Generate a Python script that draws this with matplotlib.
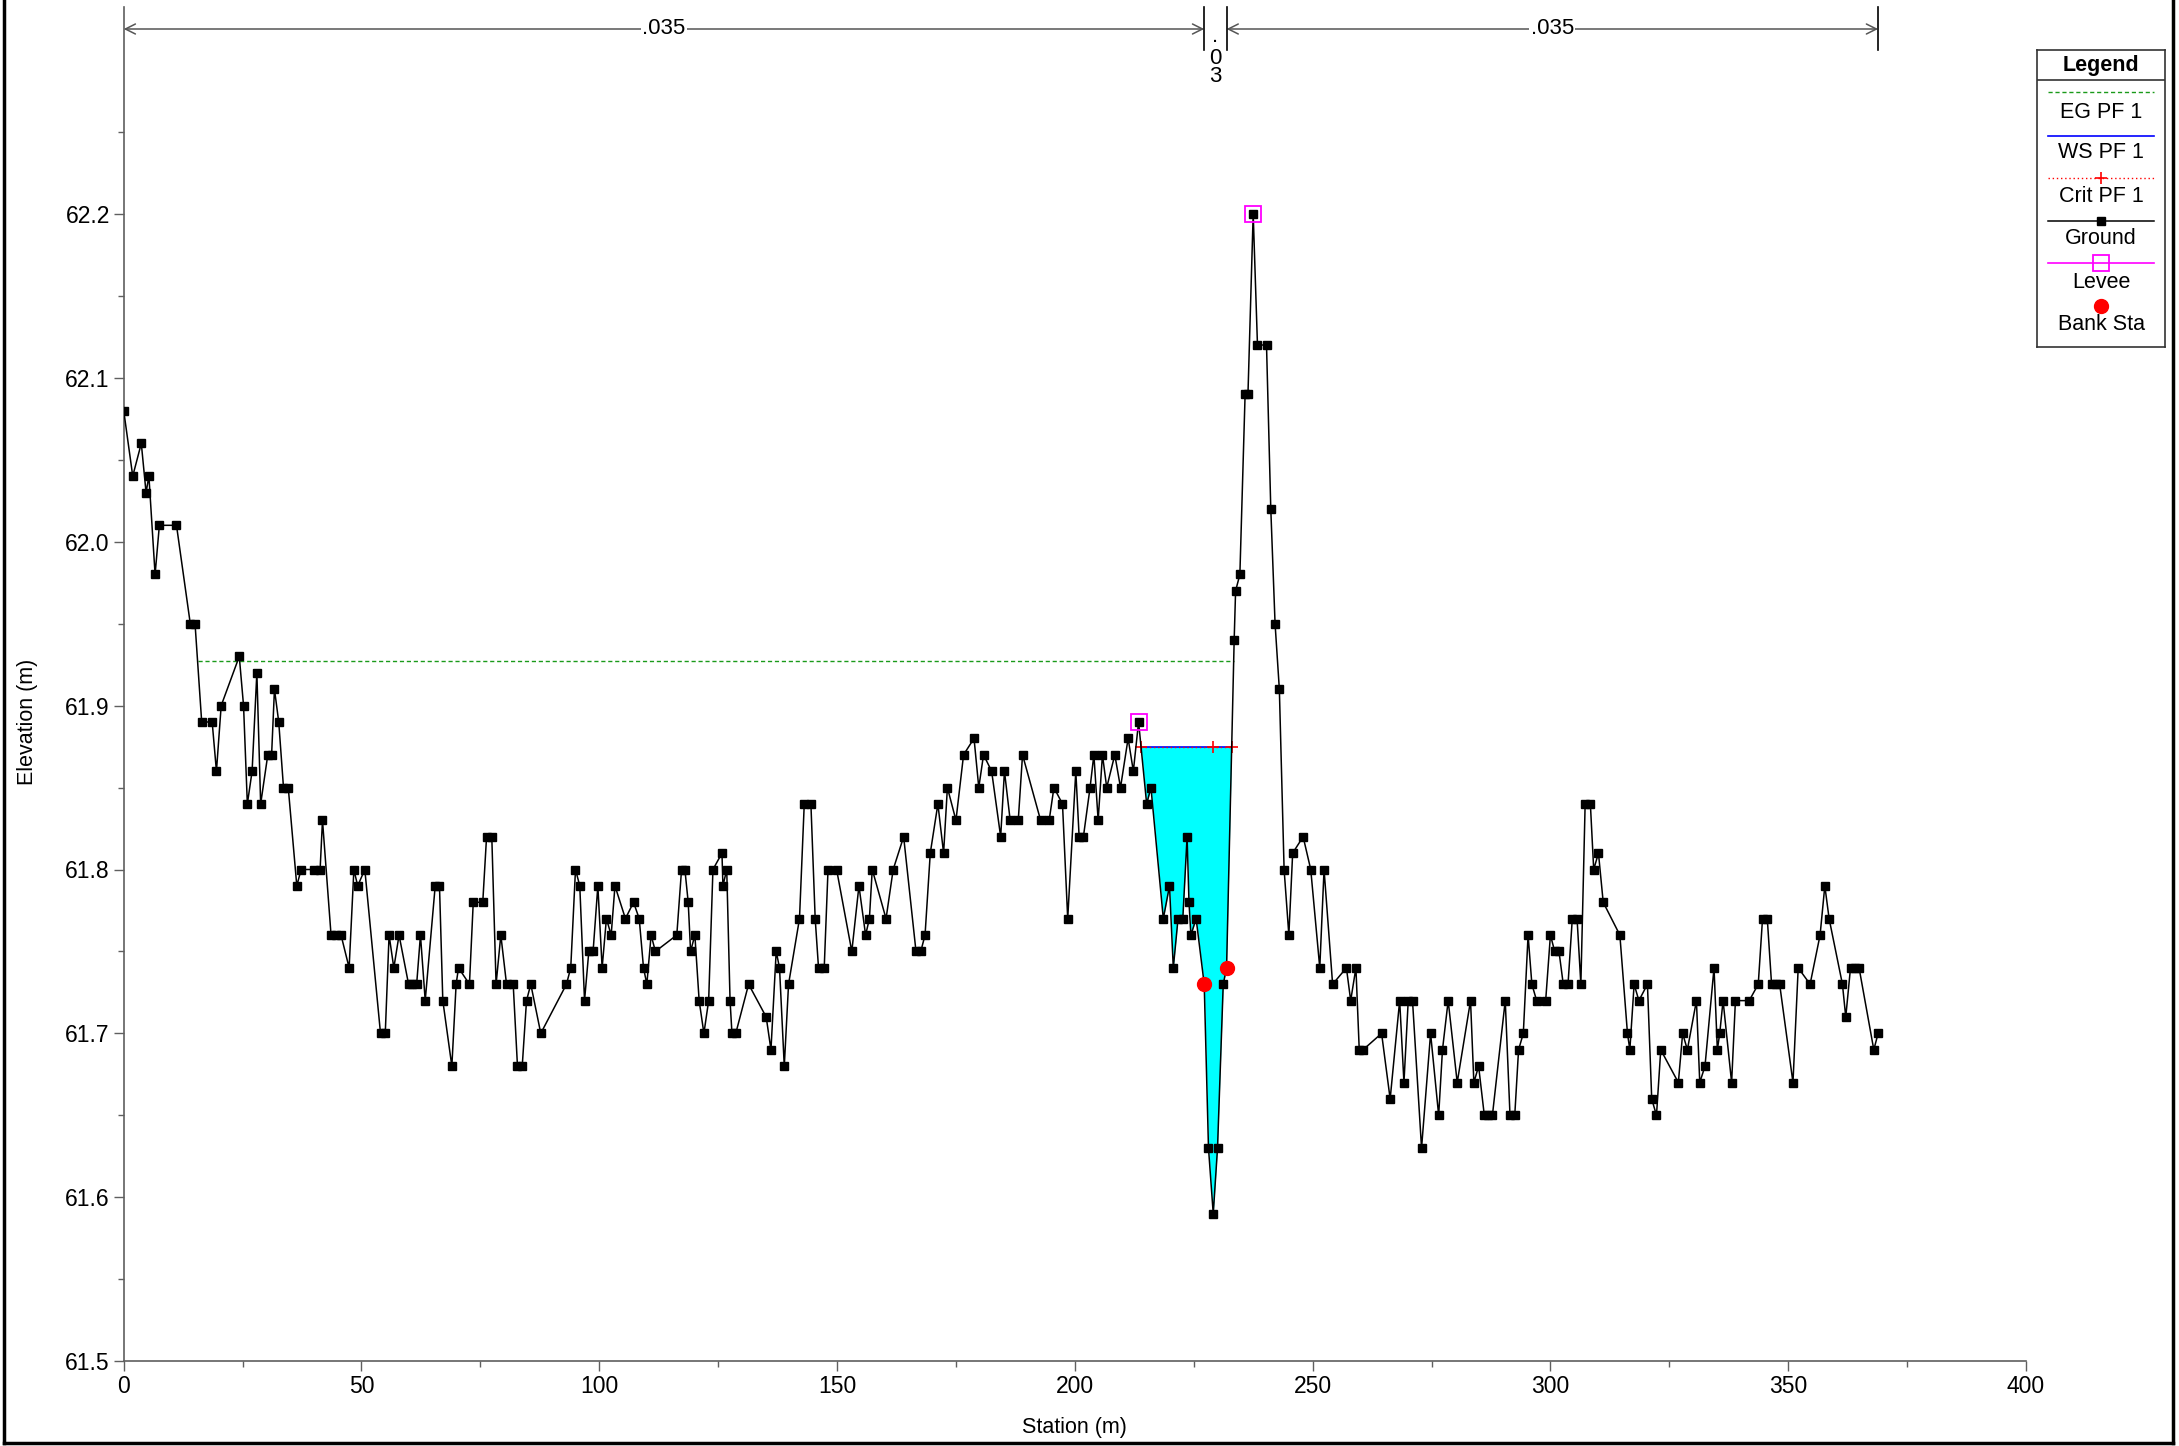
import numpy as np
import matplotlib
matplotlib.use("Agg")
import matplotlib.pyplot as plt
from matplotlib.lines import Line2D

plt.rcParams['font.family'] = ['Liberation Sans', 'DejaVu Sans']

# ---- cross-section data ----
station = [
    0.0, 1.9, 3.7, 4.7, 5.3, 6.6, 7.5, 11.1, 14.0, 15.0,
    16.4, 18.6, 19.5, 20.5, 24.3, 25.2, 26.0, 27.0, 28.0, 28.8,
    30.3, 31.1, 31.7, 32.6, 33.6, 34.6, 36.4, 37.3, 40.1, 41.3,
    41.8, 43.6, 44.7, 45.7, 47.4, 48.4, 49.2, 50.7, 54.0, 55.0,
    55.8, 56.8, 57.9, 59.9, 60.7, 61.6, 62.4, 63.4, 65.5, 66.4,
    67.1, 69.0, 69.9, 70.4, 72.7, 73.5, 75.5, 76.3, 77.4, 78.3,
    79.3, 80.5, 81.9, 82.8, 83.8, 84.7, 85.6, 87.7, 93.1, 94.0,
    95.0, 95.9, 96.9, 97.8, 98.7, 99.7, 100.6, 101.5, 102.5, 103.3,
    105.5, 107.2, 108.4, 109.3, 110.0, 110.9, 111.8, 116.3, 117.3, 118.0,
    118.7, 119.2, 120.1, 121.0, 122.0, 123.0, 123.9, 125.8, 126.0, 126.8,
    127.5, 127.9, 128.7, 131.4, 135.1, 136.1, 137.2, 137.9, 138.9, 139.8,
    142.1, 143.1, 144.5, 145.4, 146.1, 147.3, 148.1, 149.9, 153.1, 154.6,
    156.0, 156.8, 157.4, 160.3, 161.8, 164.0, 166.6, 167.6, 168.5, 169.6,
    171.2, 172.4, 173.2, 175.0, 176.6, 178.8, 179.8, 180.8, 182.5, 184.4,
    185.2, 186.4, 188.1, 189.0, 192.8, 194.6, 195.6, 197.4, 198.5, 200.2,
    200.9, 201.8, 203.2, 204.0, 204.9, 205.8, 206.7, 208.4, 209.6, 211.2,
    212.3, 213.4, 215.1, 216.0, 218.6, 219.9, 220.7, 221.7, 222.7, 223.6,
    224.0, 224.4, 225.5, 227.2, 228.1, 229.1, 230.0, 231.2, 231.9, 233.5,
    233.8, 234.7, 235.8, 236.4, 237.5, 238.4, 240.3, 241.2, 242.1, 243.0,
    244.0, 245.0, 245.8, 248.0, 249.6, 251.5, 252.4, 254.2, 257.1, 258.0,
    259.1, 259.8, 260.6, 264.5, 266.3, 268.3, 269.2, 270.1, 271.0, 272.9,
    274.8, 276.5, 277.3, 278.5, 280.4, 283.2, 283.9, 284.9, 286.1, 286.9,
    287.8, 290.5, 291.5, 292.5, 293.3, 294.3, 295.3, 296.1, 297.1, 299.0,
    300.0, 300.9, 301.8, 302.7, 303.7, 304.6, 305.6, 306.4, 307.3, 308.4,
    309.1, 310.1, 311.1, 314.6, 316.2, 316.7, 317.6, 318.6, 320.4, 321.3,
    322.3, 323.2, 326.9, 327.8, 328.8, 330.7, 331.4, 332.5, 334.4, 335.1,
    335.6, 336.3, 338.1, 338.9, 341.8, 343.7, 344.6, 345.6, 346.5, 347.4,
    348.2, 351.0, 352.1, 354.6, 356.7, 357.7, 358.6, 361.4, 362.1, 363.1,
    364.0, 364.9, 368.0, 368.9,
]
elevation = [
    62.08, 62.04, 62.06, 62.03, 62.04, 61.98, 62.01, 62.01, 61.95, 61.95,
    61.89, 61.89, 61.86, 61.90, 61.93, 61.90, 61.84, 61.86, 61.92, 61.84,
    61.87, 61.87, 61.91, 61.89, 61.85, 61.85, 61.79, 61.80, 61.80, 61.80,
    61.83, 61.76, 61.76, 61.76, 61.74, 61.80, 61.79, 61.80, 61.70, 61.70,
    61.76, 61.74, 61.76, 61.73, 61.73, 61.73, 61.76, 61.72, 61.79, 61.79,
    61.72, 61.68, 61.73, 61.74, 61.73, 61.78, 61.78, 61.82, 61.82, 61.73,
    61.76, 61.73, 61.73, 61.68, 61.68, 61.72, 61.73, 61.70, 61.73, 61.74,
    61.80, 61.79, 61.72, 61.75, 61.75, 61.79, 61.74, 61.77, 61.76, 61.79,
    61.77, 61.78, 61.77, 61.74, 61.73, 61.76, 61.75, 61.76, 61.80, 61.80,
    61.78, 61.75, 61.76, 61.72, 61.70, 61.72, 61.80, 61.81, 61.79, 61.80,
    61.72, 61.70, 61.70, 61.73, 61.71, 61.69, 61.75, 61.74, 61.68, 61.73,
    61.77, 61.84, 61.84, 61.77, 61.74, 61.74, 61.80, 61.80, 61.75, 61.79,
    61.76, 61.77, 61.80, 61.77, 61.80, 61.82, 61.75, 61.75, 61.76, 61.81,
    61.84, 61.81, 61.85, 61.83, 61.87, 61.88, 61.85, 61.87, 61.86, 61.82,
    61.86, 61.83, 61.83, 61.87, 61.83, 61.83, 61.85, 61.84, 61.77, 61.86,
    61.82, 61.82, 61.85, 61.87, 61.83, 61.87, 61.85, 61.87, 61.85, 61.88,
    61.86, 61.89, 61.84, 61.85, 61.77, 61.79, 61.74, 61.77, 61.77, 61.82,
    61.78, 61.76, 61.77, 61.73, 61.63, 61.59, 61.63, 61.73, 61.74, 61.94,
    61.97, 61.98, 62.09, 62.09, 62.20, 62.12, 62.12, 62.02, 61.95, 61.91,
    61.80, 61.76, 61.81, 61.82, 61.80, 61.74, 61.80, 61.73, 61.74, 61.72,
    61.74, 61.69, 61.69, 61.70, 61.66, 61.72, 61.67, 61.72, 61.72, 61.63,
    61.70, 61.65, 61.69, 61.72, 61.67, 61.72, 61.67, 61.68, 61.65, 61.65,
    61.65, 61.72, 61.65, 61.65, 61.69, 61.70, 61.76, 61.73, 61.72, 61.72,
    61.76, 61.75, 61.75, 61.73, 61.73, 61.77, 61.77, 61.73, 61.84, 61.84,
    61.80, 61.81, 61.78, 61.76, 61.70, 61.69, 61.73, 61.72, 61.73, 61.66,
    61.65, 61.69, 61.67, 61.70, 61.69, 61.72, 61.67, 61.68, 61.74, 61.69,
    61.70, 61.72, 61.67, 61.72, 61.72, 61.73, 61.77, 61.77, 61.73, 61.73,
    61.73, 61.67, 61.74, 61.73, 61.76, 61.79, 61.77, 61.73, 61.71, 61.74,
    61.74, 61.74, 61.69, 61.70,
]

levee_station = [213.4, 237.5]
levee_elev = [61.89, 62.20]
bank_station = [227.2, 231.9]
bank_elev = [61.73, 61.74]

ws_elev = 61.875      # water surface, PF 1
crit_elev = 61.875    # critical depth elevation, PF 1
eg_elev = 61.927      # energy grade, PF 1

n_values = ['.035', '.03', '.035']
n_breaks = [0.0, 227.2, 231.9, 368.9]

x = np.array(station)
z = np.array(elevation)


def crossing(i_from, step, level):
    """Walk from index i_from in direction step until ground reaches level;
    return the interpolated station of the crossing."""
    i = i_from
    while 0 <= i + step < len(z):
        j = i + step
        if z[j] >= level:
            return x[i] + (level - z[i]) * (x[j] - x[i]) / (z[j] - z[i])
        i = j
    return x[i]


def outer_crossing(level):
    left = right = None
    for i in range(len(z) - 1):
        if z[i] >= level > z[i + 1]:
            left = x[i] + (z[i] - level) * (x[i + 1] - x[i]) / (z[i] - z[i + 1])
            break
    for i in range(len(z) - 1, 0, -1):
        if z[i] >= level > z[i - 1]:
            right = x[i - 1] + (level - z[i - 1]) * (x[i] - x[i - 1]) / (z[i] - z[i - 1])
            break
    return left, right


thalweg = int(np.argmin(z))
ws_left = crossing(thalweg, -1, ws_elev)
ws_right = crossing(thalweg, +1, ws_elev)
eg_left, eg_right = outer_crossing(eg_elev)

# ---- figure ----
W, H = 2179, 1446
fig = plt.figure(figsize=(W / 100, H / 100), dpi=100)
ax_left, ax_bottom = 123.7 / W, 1 - 1361.2 / H
ax_right, ax_top = 2026.0 / W, 1 - 7.0 / H
ax = fig.add_axes([ax_left, ax_bottom, ax_right - ax_left, ax_top - ax_bottom])


def px_to_elev(py):
    """Convert a vertical pixel position (from the top) to elevation."""
    return 61.5 + (1361.2 - py) / 1639.0


y_top = px_to_elev(7.0)
ax.set_xlim(0, 400)
ax.set_ylim(61.5, y_top)

axis_grey = '#5f5f5f'
for side in ['top', 'right']:
    ax.spines[side].set_visible(False)
for side in ['left', 'bottom']:
    ax.spines[side].set_color(axis_grey)
    ax.spines[side].set_linewidth(1.2)

ax.set_xticks(np.arange(0, 401, 50))
ax.set_xticks(np.arange(25, 400, 50), minor=True)
ax.set_yticks(np.round(np.arange(61.5, 62.21, 0.1), 2))
ax.set_yticks(np.round(np.arange(61.55, 62.26, 0.1), 2), minor=True)
ax.set_yticklabels(['61.5', '61.6', '61.7', '61.8', '61.9', '62.0', '62.1', '62.2'])
ax.tick_params(which='major', direction='out', length=7, width=1, color=axis_grey,
               labelsize=16.5, pad=3)
ax.tick_params(which='minor', direction='out', length=4, width=1, color=axis_grey)

# water fill between ground and water surface
inside = (x > ws_left) & (x < ws_right)
xf = np.concatenate([[ws_left], x[inside], [ws_right]])
zf = np.concatenate([[ws_elev], z[inside], [ws_elev]])
ax.fill_between(xf, zf, ws_elev, color='#00ffff', linewidth=0, zorder=1)

# energy grade
ax.plot([eg_left, eg_right], [eg_elev, eg_elev], color='#1a9a1a', lw=1,
        linestyle=(0, (3, 2)), zorder=2)
# water surface
ax.plot([ws_left, ws_right], [ws_elev, ws_elev], color='#0000ff', lw=1.2, zorder=3)
# critical depth
ax.plot([ws_left, ws_right], [crit_elev, crit_elev], color='red', lw=1,
        linestyle=(0, (1, 2)), zorder=4)
ax.plot([ws_left, x[thalweg], ws_right], [crit_elev] * 3, linestyle='none',
        marker='+', color='red', markersize=8, mew=1.2, zorder=4)

# ground
ax.plot(x, z, color='black', lw=1.1, marker='s', markersize=6, zorder=5)
# levees
ax.plot(levee_station, levee_elev, linestyle='none', marker='s', markersize=11,
        markerfacecolor='none', markeredgecolor='#ff00ff', mew=1.3, zorder=6)
# bank stations
ax.plot(bank_station, bank_elev, linestyle='none', marker='o', markersize=10,
        color='red', zorder=7)

# Manning's n dimension lines along the top
dim_y = px_to_elev(29.0)
bar_lo = px_to_elev(50.0)
line_grey = '#555555'
for k, label in enumerate(n_values):
    a, b = n_breaks[k], n_breaks[k + 1]
    mid = 0.5 * (a + b)
    if b - a > 20:
        for end in (a, b):
            ax.annotate('', xy=(end, dim_y), xytext=(mid, dim_y),
                        arrowprops=dict(arrowstyle='->', color=line_grey, lw=1.1,
                                        mutation_scale=18, shrinkA=0, shrinkB=0),
                        annotation_clip=False, zorder=8)
        ax.text(mid, dim_y, label, ha='center', va='center', fontsize=16,
                bbox=dict(facecolor='white', edgecolor='none', pad=1), zorder=9)
    else:
        # narrow reach: characters stacked vertically
        for ch, base in zip(label.replace('.', '.')[:], [42.0, 63.5, 81.5]):
            ax.text(mid, px_to_elev(base), ch, ha='center', va='baseline',
                    fontsize=16, zorder=9, clip_on=False)
for b in n_breaks[1:]:
    ax.plot([b, b], [bar_lo, y_top], color='black', lw=1.2, clip_on=False, zorder=9)

# axis titles
fig.text(28 / W, 1 - 722 / H, 'Elevation (m)', rotation=90, ha='center', va='center',
         fontsize=15.5)
fig.text(1074 / W, 1 - 1427 / H, 'Station (m)', ha='center', va='center', fontsize=15.5)

# legend panel
lx0, lx1, ly0, ly1 = 2037, 2165, 50, 347
lax = fig.add_axes([lx0 / W, 1 - ly1 / H, (lx1 - lx0) / W, (ly1 - ly0) / H])
lax.set_xlim(lx0, lx1)
lax.set_ylim(ly1, ly0)
lax.set_xticks([])
lax.set_yticks([])
for s in lax.spines.values():
    s.set_color('#333333')
    s.set_linewidth(1.2)
lax.plot([lx0, lx1], [80, 80], color='#333333', lw=1.2)
cx = 0.5 * (lx0 + lx1)
sx = [2048, 2154]
fs = 15.5
lax.text(cx, 65, 'Legend', ha='center', va='center', fontsize=fs, fontweight='bold')
lax.plot(sx, [92, 92], color='#1a9a1a', lw=1, linestyle=(0, (3, 2)))
lax.text(cx, 112, 'EG PF 1', ha='center', va='center', fontsize=fs)
lax.plot(sx, [136, 136], color='#0000ff', lw=1.2)
lax.text(cx, 153, 'WS PF 1', ha='center', va='center', fontsize=fs)
lax.plot(sx, [178, 178], color='red', lw=1, linestyle=(0, (1, 2)))
lax.plot([cx], [178], marker='+', color='red', markersize=8, mew=1.2)
lax.text(cx, 197, 'Crit PF 1', ha='center', va='center', fontsize=fs)
lax.plot(sx, [221, 221], color='black', lw=1.1)
lax.plot([cx], [221], marker='s', color='black', markersize=6)
lax.text(cx, 239, 'Ground', ha='center', va='center', fontsize=fs)
lax.plot(sx, [263, 263], color='#ff00ff', lw=1.2)
lax.plot([cx], [263], marker='s', markersize=11, markerfacecolor='none',
         markeredgecolor='#ff00ff', mew=1.3)
lax.text(cx, 282, 'Levee', ha='center', va='center', fontsize=fs)
lax.plot([cx], [306], marker='o', color='red', markersize=10)
lax.text(cx, 325, 'Bank Sta', ha='center', va='center', fontsize=fs)

# outer frame
for (xa, ya, xb, yb) in [(4, 0, 4, 1443), (4, 1443, 2173, 1443), (2173, 0, 2173, 1443)]:
    fig.add_artist(Line2D([xa / W, xb / W], [1 - ya / H, 1 - yb / H],
                          color='black', lw=2.5, transform=fig.transFigure))

fig.savefig('out.png', dpi=100)
